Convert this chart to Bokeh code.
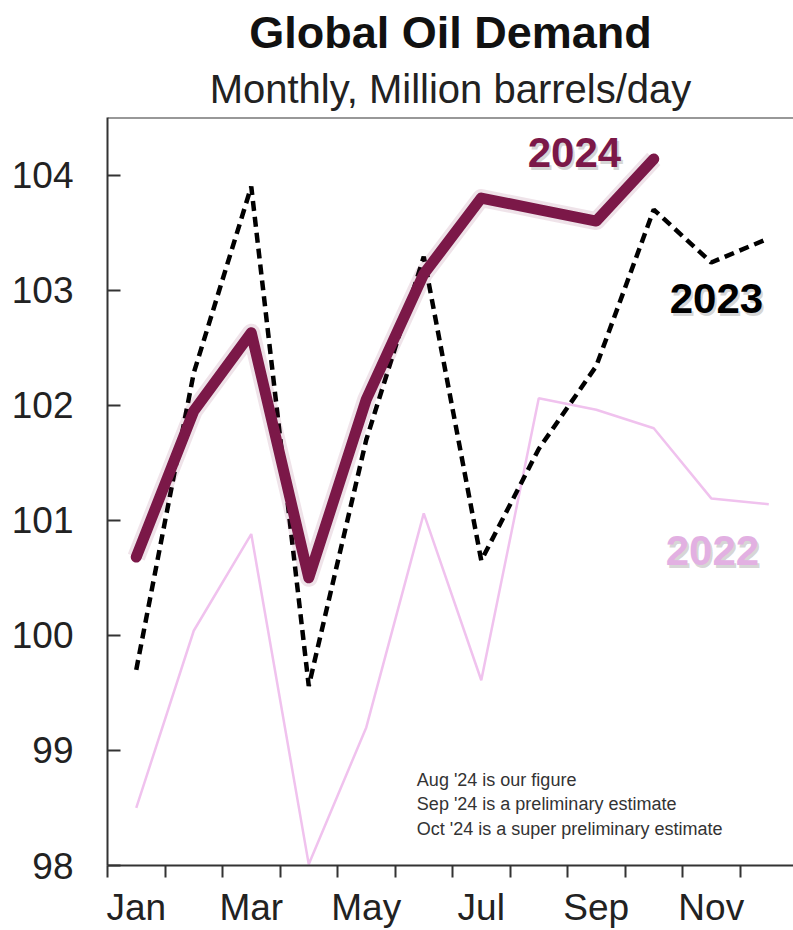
from bokeh.plotting import figure
from bokeh.models import Range1d, FixedTicker, Span, Label, ColumnDataSource, Title
from bokeh.embed import file_html
from bokeh.resources import INLINE

# ---- data ----
months = ["Jan", "Feb", "Mar", "Apr", "May", "Jun", "Jul", "Aug", "Sep", "Oct", "Nov", "Dec"]
month_num = list(range(1, 13))
demand_2022 = [98.50, 100.04, 100.88, 98.01, 99.20, 101.06, 99.61, 102.06, 101.96, 101.80, 101.19, 101.14]
demand_2023 = [99.70, 102.28, 103.90, 99.56, 101.70, 103.29, 100.65, 101.62, 102.34, 103.70, 103.24, 103.45]
demand_2024 = [100.68, 101.95, 102.63, 100.50, 102.05, 103.14, 103.80, 103.70, 103.60, 104.14]
y_ticks = [98, 99, 100, 101, 102, 103, 104]
x_tick_months = [1, 3, 5, 7, 9, 11]
title = "Global Oil Demand"
subtitle = "Monthly, Million barrels/day"
notes = ["Aug '24 is our figure",
         "Sep '24 is a preliminary estimate",
         "Oct '24 is a super preliminary estimate"]

FONT = "Liberation Sans"
MAROON = "#7B1848"
PINK = "#F0C2EE"

p = figure(width=793, height=930, output_backend="svg", toolbar_location=None,
           x_range=Range1d(0.5, 12.43), y_range=Range1d(98, 104.5),
           min_border_left=107, min_border_right=0, min_border_top=117, min_border_bottom=64)
p.grid.visible = False
p.outline_line_color = None
p.background_fill_color = "white"
p.border_fill_color = "white"

# titles (subtitle first so it sits closest to the frame)
p.add_layout(Title(text=subtitle, align="center", text_font=FONT, text_font_size="40px",
                   text_font_style="normal", text_color="#222222", standoff=14, offset=-14), "above")
p.add_layout(Title(text=title, align="center", text_font=FONT, text_font_size="45px",
                   text_font_style="bold", text_color="#111111", standoff=0, offset=-14), "above")

src22 = ColumnDataSource(dict(x=month_num, y=demand_2022))
src23 = ColumnDataSource(dict(x=month_num, y=demand_2023))
src24 = ColumnDataSource(dict(x=month_num[:len(demand_2024)], y=demand_2024))

p.line("x", "y", source=src22, line_color=PINK, line_width=2.5)
p.line("x", "y", source=src23, line_color="black", line_width=4.5, line_dash="10 6")
p.line("x", "y", source=src24, line_color=MAROON, line_width=18, line_alpha=0.12, line_join="round")
p.line("x", "y", source=src24, line_color=MAROON, line_width=11, line_join="round", line_cap="round")

# axes
yax = p.yaxis[0]
yax.ticker = FixedTicker(ticks=y_ticks)
yax.major_tick_in = 13
yax.major_tick_out = 0
yax.minor_tick_line_color = None
yax.major_label_standoff = 34
yax.major_label_text_font = FONT
yax.major_label_text_font_size = "37px"
yax.major_label_text_color = "#222222"
yax.axis_line_width = 2
yax.axis_line_color = "#333333"
yax.major_tick_line_width = 2
yax.major_tick_line_color = "#333333"

xax = p.xaxis[0]
xax.ticker = FixedTicker(ticks=x_tick_months, minor_ticks=[m - 0.5 for m in month_num])
xax.major_label_overrides = {m: months[m - 1] for m in x_tick_months}
xax.major_tick_line_color = None
xax.major_tick_in = 0
xax.major_tick_out = 0
xax.minor_tick_in = 0
xax.minor_tick_out = 12
xax.minor_tick_line_width = 2
xax.minor_tick_line_color = "#333333"
xax.major_label_standoff = 9
xax.major_label_text_font = FONT
xax.major_label_text_font_size = "37px"
xax.major_label_text_color = "#222222"
xax.axis_line_width = 2
xax.axis_line_color = "#333333"

p.add_layout(Span(location=104.5, dimension="width", line_color="#333333", line_width=2))

# series labels with soft shadow
def year_label(x, y, text, color):
    p.add_layout(Label(x=x, y=y, text=text, text_align="center", text_font=FONT,
                       text_font_size="42px", text_font_style="bold", text_color="#888888",
                       text_alpha=0.35, x_offset=2, y_offset=-3))
    p.add_layout(Label(x=x, y=y, text=text, text_align="center", text_font=FONT,
                       text_font_size="42px", text_font_style="bold", text_color=color))

year_label(8.62, 104.07, "2024", MAROON)
year_label(11.09, 102.80, "2023", "black")
year_label(11.02, 100.61, "2022", "#E2B0E2")

# notes
for i, t in enumerate(notes):
    p.add_layout(Label(x=5.88, y=98.66 - 0.215 * i, text=t, text_align="left",
                       text_font=FONT, text_font_size="18px", text_color="#333333"))

open("out.html", "w").write(file_html(p, INLINE))
